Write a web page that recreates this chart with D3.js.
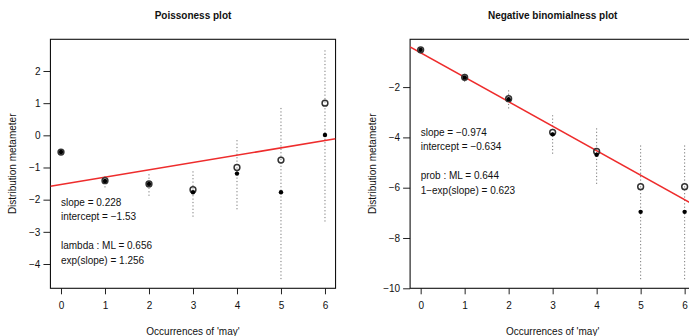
<!DOCTYPE html>
<html><head><meta charset="utf-8">
<script src="https://cdn.jsdelivr.net/npm/d3@7"></script>
<style>
body{margin:0;background:#fff;}
svg text{font-family:"Liberation Sans",Arial,sans-serif;fill:#111;}
</style></head>
<body><svg id="c" width="689" height="336"></svg>
<script>
// ---- data ----
const counts = [0,1,2,3,4,5,6];
// Poissoness panel
const poisObserved = [-0.52,-1.41,-1.51,-1.69,-1.00,-0.77,1.00];
const poisCentered = [-0.52,-1.42,-1.51,-1.77,-1.19,-1.77,0.01];
const poisLower    = [-0.57,-1.62,-1.88,-2.53,-2.30,-4.47,-2.68];
const poisUpper    = [-0.47,-1.22,-1.18,-1.05,-0.08,0.88,2.66];
const poisSlope = 0.228, poisIntercept = -1.53;
const poisText = ["slope = 0.228","intercept = \u22121.53","","lambda : ML = 0.656","exp(slope) = 1.256"];
const poisTextY = [-2.08,-2.52,null,-3.43,-3.88];
const poisYTicks = [-4,-3,-2,-1,0,1,2];
// Negative binomialness panel
const nbObserved = [-0.52,-1.61,-2.46,-3.80,-4.56,-5.96,-5.96];
const nbCentered = [-0.52,-1.62,-2.48,-3.88,-4.69,-6.96,-6.96];
const nbLower    = [-0.60,-1.79,-2.85,-4.65,-5.85,-9.64,-9.64];
const nbUpper    = [-0.44,-1.45,-2.13,-3.12,-3.57,-4.30,-4.30];
const nbSlope = -0.974, nbIntercept = -0.634;
const nbText = ["slope = \u22120.974","intercept = \u22120.634","prob : ML = 0.644","1\u2212exp(slope) = 0.623"];
const nbTextY = [-3.82,-4.35,-5.51,-6.10];
const nbYTicks = [-10,-8,-6,-4,-2];
const xTicks = [0,1,2,3,4,5,6];

const svg = d3.select("#c");
const fmt = v => (v<0?"\u2212":"") + Math.abs(v);

function panel(cfg){
  const x = d3.scaleLinear().domain([-0.24,6.24]).range([cfg.left, cfg.left+285.1]);
  const y = d3.scaleLinear().domain(cfg.ydom).range([288.3,39.3]);
  const g = svg.append("g");
  const id = "clip"+cfg.name;
  svg.append("clipPath").attr("id",id).append("rect")
    .attr("x",x.range()[0]).attr("y",39.3).attr("width",285.1).attr("height",249);
  // title
  g.append("text").attr("x",(x.range()[0]+x.range()[1])/2).attr("y",18.5)
    .attr("text-anchor","middle").style("font-weight","bold").style("font-size","10px").text(cfg.title);
  // axes
  const ya = d3.axisLeft(y).tickValues(cfg.yticks).tickFormat(fmt).tickSize(7).tickPadding(3);
  const yg = g.append("g").attr("transform",`translate(${x.range()[0]},0)`).call(ya);
  yg.select(".domain").remove();
  const xa = d3.axisBottom(x).tickValues(xTicks).tickFormat(fmt).tickSize(6).tickPadding(8);
  const xg = g.append("g").attr("transform",`translate(0,288.3)`).call(xa);
  xg.select(".domain").remove();
  g.selectAll(".tick text").style("font-size","10px").attr("fill","#111").style("font-family","Liberation Sans, Arial, sans-serif");
  g.selectAll(".tick line").attr("stroke","#222");
  // box
  g.append("rect").attr("x",x.range()[0]).attr("y",39.3).attr("width",285.1).attr("height",249)
    .attr("fill","none").attr("stroke","#111").attr("stroke-width",1.1);
  // axis labels
  g.append("text").attr("x",(x.range()[0]+x.range()[1])/2).attr("y",334.5).attr("text-anchor","middle")
    .style("font-size","10px").text("Occurrences of 'may'");
  g.append("text").attr("transform",`translate(${cfg.ylabX},163.8) rotate(-90)`).attr("text-anchor","middle")
    .style("font-size","10px").text("Distribution metameter");
  const pg = g.append("g").attr("clip-path",`url(#${id})`);
  // CI dotted
  pg.selectAll("line.ci").data(counts).join("line").attr("class","ci")
    .attr("x1",d=>x(d)).attr("x2",d=>x(d))
    .attr("y1",(d,i)=>y(cfg.lo[i])).attr("y2",(d,i)=>y(cfg.hi[i]))
    .attr("stroke","#777").attr("stroke-width",1).attr("stroke-dasharray","1.2,2.2");
  // fitted line
  const xd = x.domain();
  pg.append("line").attr("x1",x(xd[0])).attr("x2",x(xd[1]))
    .attr("y1",y(cfg.b+cfg.m*xd[0])).attr("y2",y(cfg.b+cfg.m*xd[1]))
    .attr("stroke","#ee2c2c").attr("stroke-width",1.5);
  // observed open circles
  pg.selectAll("circle.obs").data(counts).join("circle").attr("class","obs")
    .attr("cx",d=>x(d)).attr("cy",(d,i)=>y(cfg.obs[i])).attr("r",2.9)
    .attr("fill","none").attr("stroke","#333").attr("stroke-width",1.5);
  // centered solid
  pg.selectAll("circle.cen").data(counts).join("circle").attr("class","cen")
    .attr("cx",d=>x(d)).attr("cy",(d,i)=>y(cfg.cen[i])).attr("r",2.2).attr("fill","#000");
  // texts
  cfg.text.forEach((t,i)=>{
    if(!t) return;
    g.append("text").attr("x",x(0)).attr("y",y(cfg.ty[i])).attr("dy","0.35em")
      .style("font-size","10px").text(t);
  });
}

panel({name:"p",left:50.44,ydom:[-4.755,2.985],yticks:poisYTicks,title:"Poissoness plot",
  ylabX:16,lo:poisLower,hi:poisUpper,obs:poisObserved,cen:poisCentered,m:poisSlope,b:poisIntercept,
  text:poisText,ty:poisTextY});
panel({name:"n",left:410.1,ydom:[-10,-0.1],yticks:nbYTicks,title:"Negative binomialness plot",
  ylabX:376,lo:nbLower,hi:nbUpper,obs:nbObserved,cen:nbCentered,m:nbSlope,b:nbIntercept,
  text:nbText,ty:nbTextY});
</script></body></html>
